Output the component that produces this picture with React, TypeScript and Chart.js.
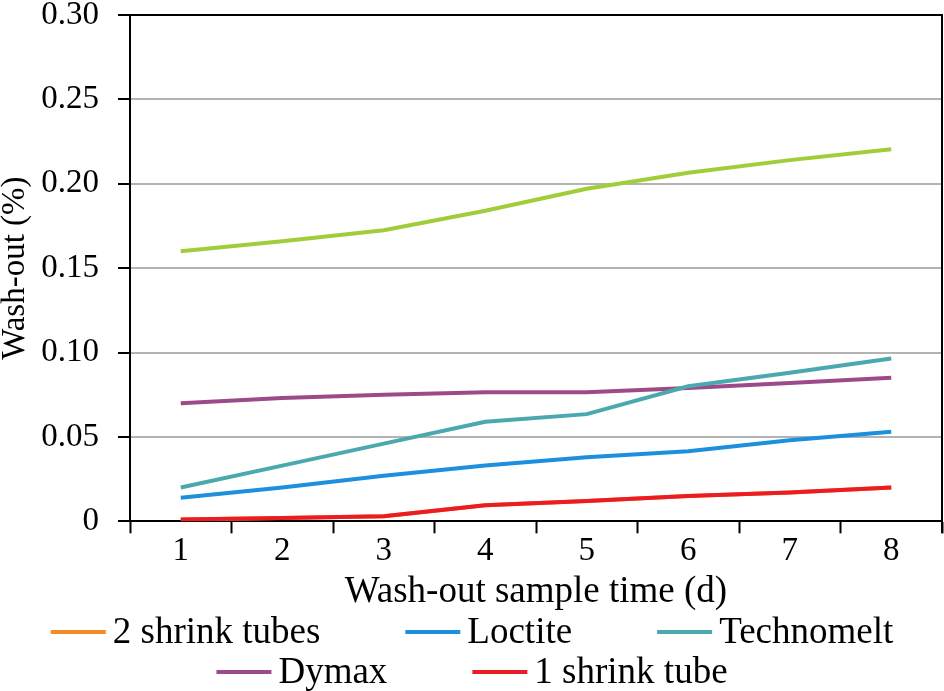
import React, { useEffect, useRef } from "react";
import { Chart, registerables } from "chart.js";

Chart.register(...registerables);

const categories = ["1", "2", "3", "4", "5", "6", "7", "8"];
const unlabelledSeries = [0.160, 0.166, 0.1725, 0.184, 0.197, 0.2065, 0.214, 0.2205];
const twoShrinkTubes = [0.001, 0.002, 0.003, 0.0095, 0.012, 0.015, 0.017, 0.020];
const loctite = [0.014, 0.020, 0.027, 0.033, 0.038, 0.0415, 0.048, 0.053];
const technomelt = [0.020, 0.033, 0.046, 0.059, 0.0635, 0.080, 0.088, 0.0965];
const dymax = [0.070, 0.073, 0.075, 0.0765, 0.0765, 0.079, 0.082, 0.085];
const oneShrinkTube = [0.001, 0.002, 0.003, 0.0095, 0.012, 0.015, 0.017, 0.020];
const yTicks = [0, 0.05, 0.1, 0.15, 0.2, 0.25, 0.3];
const xTitle = "Wash-out sample time (d)";
const yTitle = "Wash-out (%)";

const FONT = '"Liberation Serif", "Times New Roman", serif';

const legendPlugin = {
  id: "customLegend",
  afterDraw(chart: any) {
    const ctx = chart.ctx;
    const items = chart.data.datasets
      .filter((d: any) => d.showInLegend)
      .map((d: any) => ({ label: d.label, color: d.borderColor }));
    ctx.save();
    ctx.font = `37px ${FONT}`;
    ctx.textBaseline = "middle";
    ctx.textAlign = "left";
    const lineW = 55;
    const textGap = 7;
    const itemGap = 85;
    const maxW = chart.width - 30;
    const rows: any[][] = [[]];
    let rowW = 0;
    items.forEach((it: any) => {
      const w = lineW + textGap + ctx.measureText(it.label).width;
      it.w = w;
      const cur = rows[rows.length - 1];
      const add = cur.length ? itemGap + w : w;
      if (cur.length && rowW + add > maxW) {
        rows.push([it]);
        rowW = w;
      } else {
        cur.push(it);
        rowW += add;
      }
    });
    rows.forEach((row, r) => {
      const total = row.reduce((s, it) => s + it.w, 0) + itemGap * (row.length - 1);
      let x = (chart.width - total) / 2;
      const y = chart.height - 59 + r * 40;
      row.forEach((it) => {
        ctx.fillStyle = it.color;
        ctx.fillRect(x, y - 2, lineW, 4);
        ctx.fillStyle = "#000";
        ctx.fillText(it.label, x + lineW + textGap, y + 1);
        x += it.w + itemGap;
      });
    });
    ctx.restore();
  },
};

const borderPlugin = {
  id: "rightBorder",
  afterDatasetsDraw(chart: any) {
    const { ctx, chartArea } = chart;
    ctx.save();
    ctx.strokeStyle = "#000";
    ctx.lineWidth = 2;
    ctx.beginPath();
    ctx.moveTo(chartArea.right, chartArea.top - 1);
    ctx.lineTo(chartArea.right, chartArea.bottom + 12);
    ctx.stroke();
    ctx.restore();
  },
};

export default function App() {
  const ref = useRef<HTMLCanvasElement>(null);
  useEffect(() => {
    if (!ref.current) return;
    const mk = (label: string, data: number[], color: string, order: number, showInLegend: boolean) => ({
      label,
      data,
      borderColor: color,
      backgroundColor: color,
      borderWidth: 4,
      pointRadius: 0,
      tension: 0,
      fill: false,
      order,
      showInLegend,
    });
    const chart = new Chart(ref.current, {
      type: "line",
      data: {
        labels: categories,
        datasets: [
          mk("", unlabelledSeries, "#a2cd3a", 1, false),
          mk("2 shrink tubes", twoShrinkTubes, "#f58a24", 6, true),
          mk("Loctite", loctite, "#1d8fdc", 2, true),
          mk("Technomelt", technomelt, "#4ba8ae", 3, true),
          mk("Dymax", dymax, "#9d4a88", 4, true),
          mk("1 shrink tube", oneShrinkTube, "#ec1c24", 0, true),
        ] as any,
      },
      options: {
        animation: false,
        responsive: false,
        layout: { padding: { top: 0, right: 2, bottom: 76, left: 0 } },
        plugins: { legend: { display: false }, tooltip: { enabled: false } },
        scales: {
          x: {
            offset: true,
            grid: {
              offset: true,
              drawOnChartArea: false,
              drawTicks: true,
              tickLength: 12,
              tickColor: "#000",
              tickWidth: 2,
            },
            border: { color: "#000", width: 2 },
            ticks: { color: "#000", padding: 2, font: { family: FONT, size: 33, lineHeight: 1 } },
            title: {
              display: true,
              text: xTitle,
              color: "#000",
              font: { family: FONT, size: 37, lineHeight: 1.1 },
              padding: { top: 2, bottom: 2 },
            },
          },
          y: {
            min: 0,
            max: 0.3,
            afterBuildTicks: (scale: any) => {
              scale.ticks = yTicks.map((v) => ({ value: v }));
            },
            afterFit: (scale: any) => {
              scale.width = 130;
              scale.paddingTop = 15;
              scale.paddingBottom = 0;
            },
            grid: {
              color: (c: any) => (c.tick && c.tick.value >= 0.299 ? "#000" : "#b3b3b3"),
              lineWidth: 2,
              tickLength: 12,
              tickColor: "#000",
              tickWidth: 2,
            },
            border: { color: "#000", width: 2 },
            ticks: {
              color: "#000",
              padding: 19,
              font: { family: FONT, size: 33, lineHeight: 1 },
              callback: (v: any) => (Number(v) === 0 ? "0" : Number(v).toFixed(2)),
            },
            title: {
              display: true,
              text: yTitle,
              color: "#000",
              font: { family: FONT, size: 33, lineHeight: 0.9 },
              padding: 0,
            },
          },
        },
      },
      plugins: [legendPlugin, borderPlugin],
    });
    return () => chart.destroy();
  }, []);
  return (
    <div style={{ position: "fixed", left: 0, top: 0, width: 944, height: 691, background: "#fff" }}>
      <canvas ref={ref} width={944} height={691} />
    </div>
  );
}
